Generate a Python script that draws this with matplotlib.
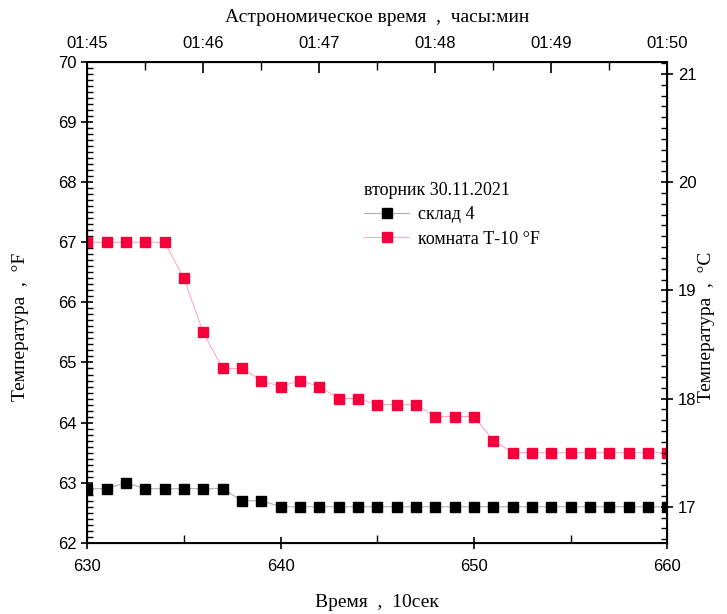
import matplotlib.pyplot as plt
import numpy as np
from matplotlib.ticker import MultipleLocator

plt.rcParams["font.family"] = "Liberation Sans"
plt.rcParams["figure.figsize"] = (7.27, 6.14)

# время, 10 сек
t = np.arange(630, 661)
sklad = [62.9, 62.9, 63.0, 62.9, 62.9, 62.9, 62.9, 62.9, 62.7, 62.7,
         62.6, 62.6, 62.6, 62.6, 62.6, 62.6, 62.6, 62.6, 62.6, 62.6,
         62.6, 62.6, 62.6, 62.6, 62.6, 62.6, 62.6, 62.6, 62.6, 62.6, 62.6]
komnata = [67.0, 67.0, 67.0, 67.0, 67.0, 66.4, 65.5, 64.9, 64.9, 64.7,
           64.6, 64.7, 64.6, 64.4, 64.4, 64.3, 64.3, 64.3, 64.1, 64.1,
           64.1, 63.7, 63.5, 63.5, 63.5, 63.5, 63.5, 63.5, 63.5, 63.5, 63.5]
top_ticks = [630, 636, 642, 648, 654, 660]
top_labels = ["01:45", "01:46", "01:47", "01:48", "01:49", "01:50"]

serif = "Liberation Serif"

fig, ax = plt.subplots()
fig.subplots_adjust(left=0.12, right=0.918, top=0.899, bottom=0.116)

ax.plot(t, sklad, color="#b0b0b0", linewidth=0.8, marker="s", markersize=6.5,
        markerfacecolor="black", markeredgecolor="black", label="склад 4")
ax.plot(t, komnata, color="#ffaabb", linewidth=0.8, marker="s", markersize=6.5,
        markerfacecolor="#f5003a", markeredgecolor="#f5003a", label="комната Т-10 °F")

ax.set_xlim(630, 660)
ax.set_ylim(62, 70)
ax.xaxis.set_major_locator(MultipleLocator(10))
ax.xaxis.set_minor_locator(MultipleLocator(5))
ax.yaxis.set_major_locator(MultipleLocator(1))
ax.yaxis.set_minor_locator(MultipleLocator(0.1))
ax.tick_params(which="major", direction="inout", length=8, width=1.2, labelsize=12)
ax.tick_params(which="minor", direction="in", length=4, width=1)
ax.tick_params(axis="x", which="minor", direction="in", length=6)
ax.tick_params(axis="x", which="major", pad=8)
for s in ax.spines.values():
    s.set_linewidth(1.4)

ax.set_xlabel("Время  ,  10сек", family=serif, fontsize=14, labelpad=14)
ax.set_ylabel("Температура  ,  °F", family=serif, fontsize=14)
ax.yaxis.set_label_coords(-0.10, 0.45)

# правая ось, °C
ax2 = ax.twinx()
ax2.set_ylim((62 - 32) * 5 / 9, (70 - 32) * 5 / 9)
ax2.yaxis.set_major_locator(MultipleLocator(1))
ax2.yaxis.set_minor_locator(MultipleLocator(0.1))
ax2.tick_params(which="major", direction="inout", length=8, width=1.2, labelsize=12)
ax2.tick_params(which="minor", direction="in", length=4, width=1)
ax2.set_ylabel("Температура  ,  °C", family=serif, fontsize=14)
ax2.yaxis.set_label_coords(1.052, 0.45)

# верхняя ось, астрономическое время
ax3 = ax.twiny()
ax3.set_xlim(630, 660)
ax3.set_xticks(top_ticks)
ax3.set_xticklabels(top_labels)
ax3.xaxis.set_minor_locator(MultipleLocator(3))
ax3.tick_params(which="major", direction="in", length=8, width=1.2, labelsize=12, pad=8)
ax3.tick_params(which="minor", direction="in", length=6, width=1)
ax3.set_xlabel("Астрономическое время  ,  часы:мин", family=serif, fontsize=14, labelpad=10)

leg = ax.legend(loc="upper left", bbox_to_anchor=(0.465, 0.765), frameon=False,
                title="вторник 30.11.2021", alignment="left",
                prop={"family": serif, "size": 13}, handlelength=2.5,
                handletextpad=0.5, labelspacing=0.4, borderaxespad=0)
leg.get_title().set_family(serif)
leg.get_title().set_fontsize(13)

plt.savefig("out.png", dpi=100)
